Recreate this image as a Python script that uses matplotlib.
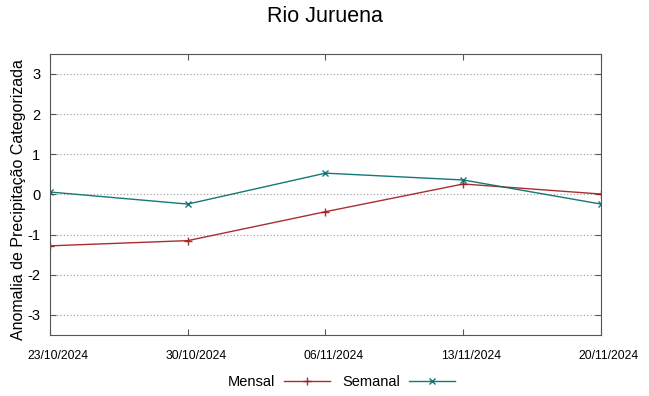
import matplotlib
matplotlib.use("Agg")
import matplotlib.pyplot as plt
from matplotlib.transforms import ScaledTranslation

plt.rcParams["font.family"] = ["Liberation Sans", "DejaVu Sans"]

datas = ["23/10/2024", "30/10/2024", "06/11/2024", "13/11/2024", "20/11/2024"]
mensal = [-1.28, -1.15, -0.43, 0.26, 0.01]
semanal = [0.06, -0.24, 0.53, 0.36, -0.24]
yticks = [-3, -2, -1, 0, 1, 2, 3]

fig = plt.figure(figsize=(6.49, 3.96), dpi=100)
ax = fig.add_axes([0.077, 0.154, 0.849, 0.710])

x = list(range(len(datas)))
ax.plot(x, mensal, color="#a01818", marker="+", markersize=6, linewidth=1.0,
        label="Mensal", alpha=0.9)
ax.plot(x, semanal, color="#0a7070", marker="x", markersize=4.5, linewidth=1.0,
        label="Semanal", alpha=0.95)

ax.set_xlim(0, len(datas) - 1)
ax.set_ylim(-3.5, 3.5)
ax.set_xticks(x)
ax.set_xticklabels([])
# rotulos de data deslocados para a direita, como no gnuplot
trans = ax.get_xaxis_transform() + ScaledTranslation(0.08, -0.21, fig.dpi_scale_trans)
for xi, d in zip(x, datas):
    ax.text(xi, 0, d, transform=trans, ha="center", va="center", fontsize=8.7,
            clip_on=False)
ax.set_yticks(yticks)
ax.set_yticklabels([str(v) for v in yticks], fontsize=10.5)
ax.tick_params(direction="in", top=True, right=True, length=4, color="#555555")
ax.tick_params(axis="y", pad=7)
for s in ax.spines.values():
    s.set_color("#555555")
ax.grid(True, axis="y", linestyle=(0, (1, 2)), color="#999999", linewidth=0.8)

ax.set_ylabel("Anomalia de Precipitação Categorizada", fontsize=11.5)
ax.yaxis.set_label_coords(-0.044, 0.48)
fig.suptitle("Rio Juruena", fontsize=15.5, y=0.985)

fig.legend(loc="center", bbox_to_anchor=(0.526, 0.035), ncol=2, frameon=False,
           markerfirst=False, fontsize=10.5, handlelength=3.2, columnspacing=0.8,
           handletextpad=0.6)

fig.savefig("out.png", dpi=100)
